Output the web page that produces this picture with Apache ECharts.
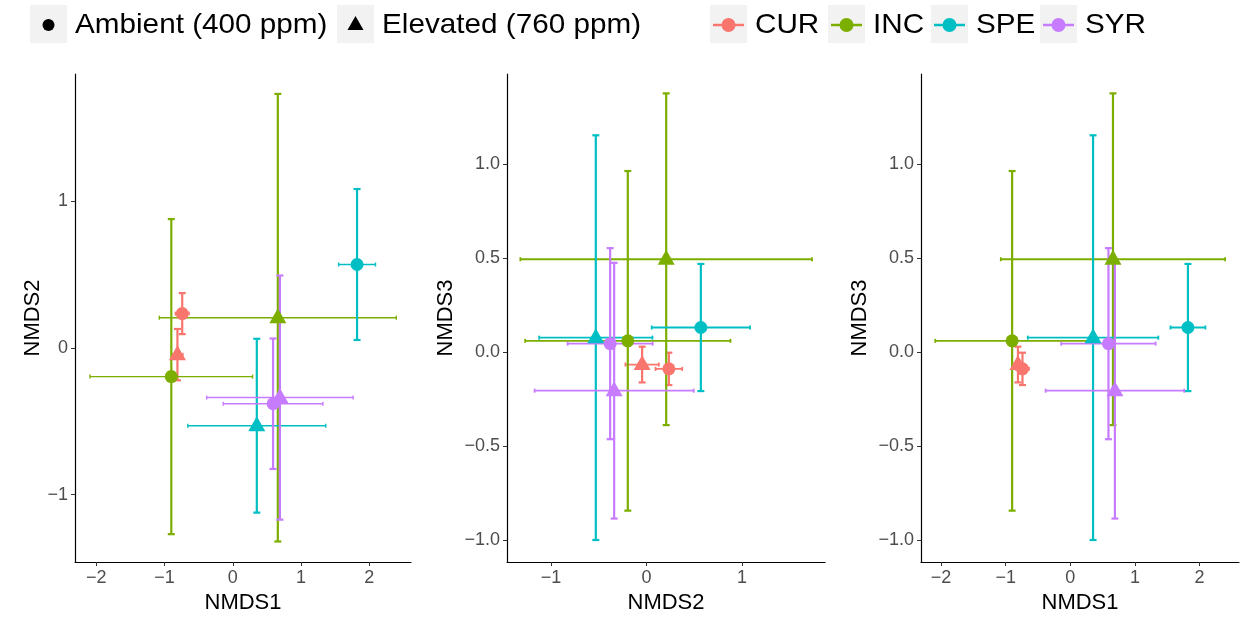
<!DOCTYPE html>
<html>
<head>
<meta charset="utf-8">
<title>NMDS ordination by genotype and CO2</title>
<script src="https://cdn.jsdelivr.net/npm/echarts@6/dist/echarts.min.js"></script>
<style>
  html, body { margin: 0; padding: 0; background: #fff; }
  #chart { width: 1243px; height: 620px; }
</style>
</head>
<body>
<div id="chart"></div>
<script>
// Groups and their colours
const groups = ['CUR', 'INC', 'SPE', 'SYR'];
const groupColors = ['#F8766D', '#7CAE00', '#00BFC4', '#C77CFF'];
const co2Levels = ['Ambient (400 ppm)', 'Elevated (760 ppm)'];

// Ambient CO2: mean score and SD on each NMDS axis (order follows groups)
const ambNMDS1 = [-0.74, -0.90, 1.82, 0.59];
const ambNMDS1Sd = [0.10, 1.19, 0.27, 0.73];
const ambNMDS2 = [0.235, -0.195, 0.57, -0.38];
const ambNMDS2Sd = [0.14, 1.075, 0.515, 0.445];
const ambNMDS3 = [-0.088, 0.061, 0.132, 0.046];
const ambNMDS3Sd = [0.086, 0.903, 0.338, 0.508];

// Elevated CO2
const elvNMDS1 = [-0.81, 0.66, 0.352, 0.69];
const elvNMDS1Sd = [0.08, 1.735, 1.01, 1.072];
const elvNMDS2 = [-0.045, 0.207, -0.53, -0.338];
const elvNMDS2Sd = [0.175, 1.527, 0.593, 0.833];
const elvNMDS3 = [-0.065, 0.495, 0.078, -0.204];
const elvNMDS3Sd = [0.095, 0.882, 1.076, 0.68];

// Tick values per axis
const nmds1Ticks = [-2, -1, 0, 1, 2];
const nmds2Ticks = [-1, 0, 1];
const nmds3Ticks = [-1, -0.5, 0, 0.5, 1];

const scores = {
  NMDS1: { amb: ambNMDS1, ambSd: ambNMDS1Sd, elv: elvNMDS1, elvSd: elvNMDS1Sd, ticks: nmds1Ticks, range: [-2.31, 2.61], digits: 0 },
  NMDS2: { amb: ambNMDS2, ambSd: ambNMDS2Sd, elv: elvNMDS2, elvSd: elvNMDS2Sd, ticks: nmds2Ticks, range: [-1.46, 1.87], digits: 0 },
  NMDS3: { amb: ambNMDS3, ambSd: ambNMDS3Sd, elv: elvNMDS3, elvSd: elvNMDS3Sd, ticks: nmds3Ticks, range: [-1.115, 1.48], digits: 1 }
};

const panels = [
  { x: 'NMDS1', y: 'NMDS2', left: 75, width: 336, yNameGap: 31, hBarWidth: 1.4 },
  { x: 'NMDS2', y: 'NMDS3', left: 507, width: 318, yNameGap: 50, hBarWidth: 1.8 },
  { x: 'NMDS1', y: 'NMDS3', left: 921, width: 318, yNameGap: 50, hBarWidth: 1.8 }
];

const FONT = '"Liberation Sans", Arial, Helvetica, sans-serif';
const gridTop = 74, gridHeight = 488;

function fmt(digits) {
  return function (v) {
    const s = digits ? Number(v).toFixed(digits) : String(Math.round(v));
    return s.replace('-', '\u2212');
  };
}

function axisCommon(key, nameGap) {
  const s = scores[key];
  return {
    type: 'value',
    min: s.range[0],
    max: s.range[1],
    name: key,
    nameLocation: 'middle',
    nameGap: nameGap,
    nameTextStyle: { fontFamily: FONT, fontSize: 22, color: '#000' },
    splitLine: { show: false },
    axisLine: { show: true, onZero: false, lineStyle: { color: '#000', width: 1.2 } },
    axisTick: { show: true, length: 4, customValues: s.ticks, lineStyle: { color: '#333', width: 1 } },
    axisLabel: {
      customValues: s.ticks,
      margin: 7,
      fontFamily: FONT,
      fontSize: 18,
      color: '#4D4D4D',
      formatter: fmt(s.digits)
    }
  };
}

const grid = [], xAxis = [], yAxis = [], series = [];

panels.forEach(function (p, i) {
  grid.push({ left: p.left, top: gridTop, width: p.width, height: gridHeight });
  xAxis.push(Object.assign(axisCommon(p.x, 18), { gridIndex: i }));
  yAxis.push(Object.assign(axisCommon(p.y, p.yNameGap), { gridIndex: i }));

  const X = scores[p.x], Y = scores[p.y];

  // error bars: one custom series per group
  groups.forEach(function (g, gi) {
    const color = groupColors[gi];
    series.push({
      type: 'custom',
      name: g,
      xAxisIndex: i,
      yAxisIndex: i,
      z: 2,
      silent: true,
      encode: { x: 0, y: 1 },
      data: [
        [X.amb[gi], Y.amb[gi], X.ambSd[gi], Y.ambSd[gi]],
        [X.elv[gi], Y.elv[gi], X.elvSd[gi], Y.elvSd[gi]]
      ],
      renderItem: function (params, api) {
        const x = api.value(0), y = api.value(1), sx = api.value(2), sy = api.value(3);
        const l = api.coord([x - sx, y]), r = api.coord([x + sx, y]);
        const t = api.coord([x, y + sy]), b = api.coord([x, y - sy]);
        const vw = 2.2, hw = p.hBarWidth, capW = 3.5, capH = 2;
        const st = function (w) { return { stroke: color, lineWidth: w, fill: null }; };
        return {
          type: 'group',
          children: [
            { type: 'line', shape: { x1: l[0], y1: l[1], x2: r[0], y2: r[1] }, style: st(hw) },
            { type: 'line', shape: { x1: l[0], y1: l[1] - capH, x2: l[0], y2: l[1] + capH }, style: st(hw) },
            { type: 'line', shape: { x1: r[0], y1: r[1] - capH, x2: r[0], y2: r[1] + capH }, style: st(hw) },
            { type: 'line', shape: { x1: t[0], y1: t[1], x2: b[0], y2: b[1] }, style: st(vw) },
            { type: 'line', shape: { x1: t[0] - capW, y1: t[1], x2: t[0] + capW, y2: t[1] }, style: st(vw) },
            { type: 'line', shape: { x1: b[0] - capW, y1: b[1], x2: b[0] + capW, y2: b[1] }, style: st(vw) }
          ]
        };
      }
    });
  });

  // points: circles for ambient, triangles for elevated
  series.push({
    type: 'scatter',
    name: co2Levels[0],
    xAxisIndex: i,
    yAxisIndex: i,
    z: 3,
    symbol: 'circle',
    symbolSize: 13,
    data: groups.map(function (g, gi) {
      return { value: [X.amb[gi], Y.amb[gi]], itemStyle: { color: groupColors[gi], opacity: 1 } };
    })
  });
  series.push({
    type: 'scatter',
    name: co2Levels[1],
    xAxisIndex: i,
    yAxisIndex: i,
    z: 3,
    symbol: 'triangle',
    symbolSize: [17, 15],
    symbolOffset: [0, -2],
    data: groups.map(function (g, gi) {
      return { value: [X.elv[gi], Y.elv[gi]], itemStyle: { color: groupColors[gi], opacity: 1 } };
    })
  });
});

// legend keys and labels
const legendFont = { fontFamily: FONT, fontSize: 28, fill: '#000' };
const keyW = 37, keyH = 38, keyTop = 5, keyMid = 25;
const graphic = [];

function keyBox(x) {
  graphic.push({ type: 'rect', shape: { x: x, y: keyTop, width: keyW, height: keyH }, style: { fill: '#F2F2F2' }, silent: true });
}
function keyText(x, text) {
  graphic.push({
    type: 'text', x: x, y: keyMid, scaleX: 1.06,
    style: Object.assign({ text: text, verticalAlign: 'middle' }, legendFont),
    silent: true
  });
}

const shapeKeyX = [30, 337];
keyBox(shapeKeyX[0]);
graphic.push({ type: 'circle', shape: { cx: shapeKeyX[0] + keyW / 2, cy: keyMid, r: 6 }, style: { fill: '#000' }, silent: true });
keyText(shapeKeyX[0] + keyW + 8, co2Levels[0]);
keyBox(shapeKeyX[1]);
graphic.push({
  type: 'polygon',
  shape: { points: [[shapeKeyX[1] + keyW / 2, keyMid - 9], [shapeKeyX[1] + keyW / 2 + 8, keyMid + 5], [shapeKeyX[1] + keyW / 2 - 8, keyMid + 5]] },
  style: { fill: '#000' }, silent: true
});
keyText(shapeKeyX[1] + keyW + 8, co2Levels[1]);

const colorKeyX = [710, 828, 931, 1040];
groups.forEach(function (g, gi) {
  const x = colorKeyX[gi];
  keyBox(x);
  graphic.push({ type: 'line', shape: { x1: x + 3, y1: keyMid, x2: x + keyW - 3, y2: keyMid }, style: { stroke: groupColors[gi], lineWidth: 2.5 }, silent: true });
  graphic.push({ type: 'circle', shape: { cx: x + keyW / 2, cy: keyMid, r: 7 }, style: { fill: groupColors[gi] }, silent: true });
  keyText(x + keyW + 8, g);
});

const chart = echarts.init(document.getElementById('chart'), null, { renderer: 'canvas' });
chart.setOption({
  animation: false,
  backgroundColor: '#fff',
  grid: grid,
  xAxis: xAxis,
  yAxis: yAxis,
  series: series,
  graphic: graphic
});
</script>
</body>
</html>
